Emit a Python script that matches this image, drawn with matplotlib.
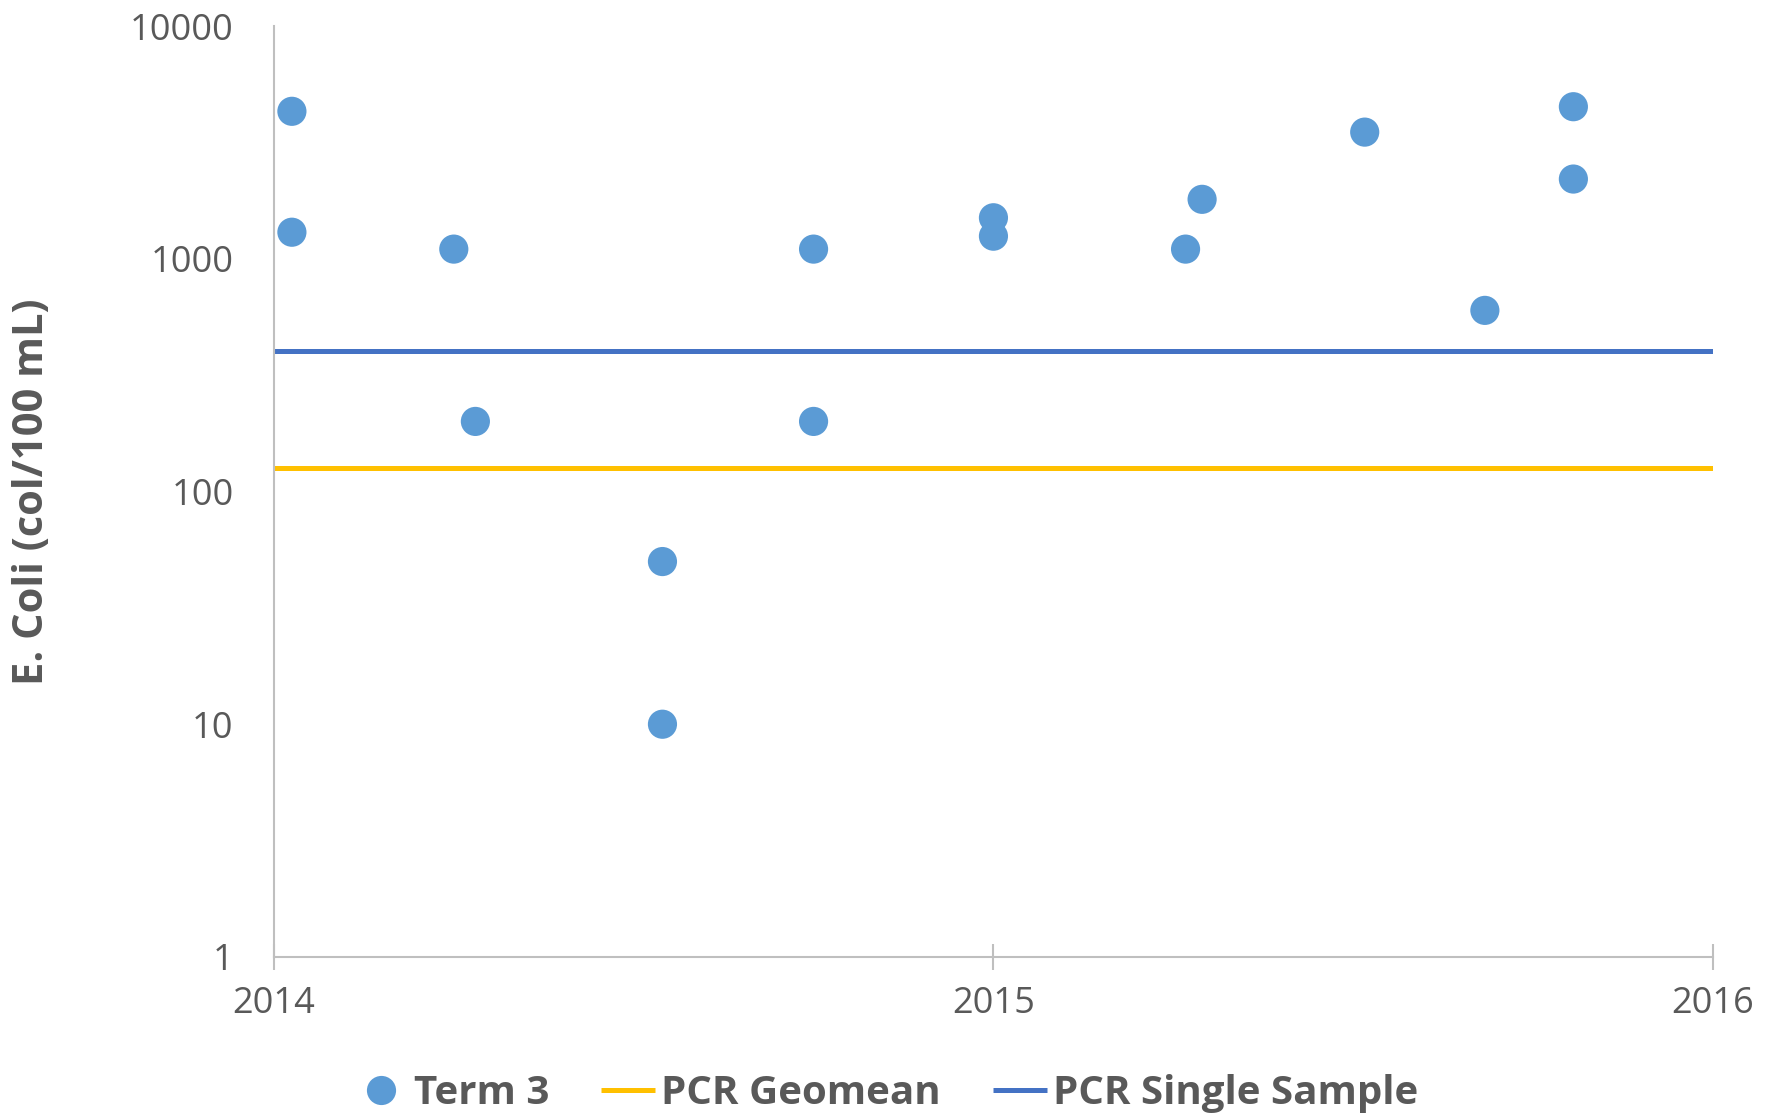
import matplotlib
matplotlib.use("Agg")
import matplotlib.pyplot as plt
from matplotlib.lines import Line2D
from matplotlib.ticker import FixedLocator, FixedFormatter, NullLocator

# sample dates as decimal years, E. coli counts (col/100 mL)
sample_years = [2014.025, 2014.025, 2014.25, 2014.28, 2014.54, 2014.54, 2014.75, 2014.75,
                2015.0, 2015.0, 2015.267, 2015.29, 2015.516, 2015.683, 2015.806, 2015.806]
ecoli = [4300, 1300, 1100, 200, 50, 10, 1100, 200,
         1500, 1250, 1100, 1800, 3500, 600, 4500, 2200]

limit_years = [2014, 2016]
pcr_geomean = [126, 126]
pcr_single = [400, 400]

y_ticks = [1, 10, 100, 1000, 10000]
x_ticks = [2014, 2015, 2016]

TEXT = "#595959"
SPINE = "#BFBFBF"
DOT = "#5B9BD5"
YELLOW = "#FFC000"
BLUE = "#4472C4"

plt.rcParams['font.family'] = ['Open Sans', 'DejaVu Sans']

fig = plt.figure(figsize=(17.81, 11.16), dpi=100)
ax = fig.add_axes([0.1538, 0.1425, 0.9618 - 0.1538, 0.9767 - 0.1425])

ax.plot(limit_years, pcr_single, color=BLUE, lw=3.6, solid_capstyle="butt", zorder=2)
ax.plot(limit_years, pcr_geomean, color=YELLOW, lw=3.6, solid_capstyle="butt", zorder=2)
ax.scatter(sample_years, ecoli, s=21 ** 2, color=DOT, edgecolors="none", zorder=3)

ax.set_yscale("log")
ax.set_ylim(1, 10000)
ax.set_xlim(2014, 2016)

ax.yaxis.set_major_locator(FixedLocator(y_ticks))
ax.yaxis.set_major_formatter(FixedFormatter([str(v) for v in y_ticks]))
ax.yaxis.set_minor_locator(NullLocator())
ax.xaxis.set_major_locator(FixedLocator(x_ticks))
ax.xaxis.set_major_formatter(FixedFormatter([str(v) for v in x_ticks]))

ax.tick_params(axis="y", length=0, pad=29, labelsize=26, labelcolor=TEXT)
ax.tick_params(axis="x", direction="inout", length=18.5, width=1.5, color=SPINE,
               pad=12, labelsize=26, labelcolor=TEXT)

for side in ["top", "right"]:
    ax.spines[side].set_visible(False)
for side in ["left", "bottom"]:
    ax.spines[side].set_color(SPINE)
    ax.spines[side].set_linewidth(1.5)

ax.set_ylabel("E. Coli (col/100 mL)", fontsize=30, fontweight="bold", color=TEXT)
ax.yaxis.set_label_coords(-0.1536, 0.5)

handles = [
    Line2D([], [], ls="none", marker="o", markersize=21, color=DOT, markeredgewidth=0),
    Line2D([], [], color=YELLOW, lw=3.6, solid_capstyle="butt"),
    Line2D([], [], color=BLUE, lw=3.6, solid_capstyle="butt"),
]
labels = ["Term 3", "PCR Geomean", "PCR Single Sample"]
leg = fig.legend(handles, labels, loc="center", bbox_to_anchor=(0.4975, 0.0205), ncol=3,
                 frameon=False, handlelength=1.33, handletextpad=0.15, columnspacing=1.3,
                 prop={"family": ["Open Sans"], "weight": "bold", "size": 29})
for t in leg.get_texts():
    t.set_color(TEXT)

fig.savefig("out.png", dpi=100)
